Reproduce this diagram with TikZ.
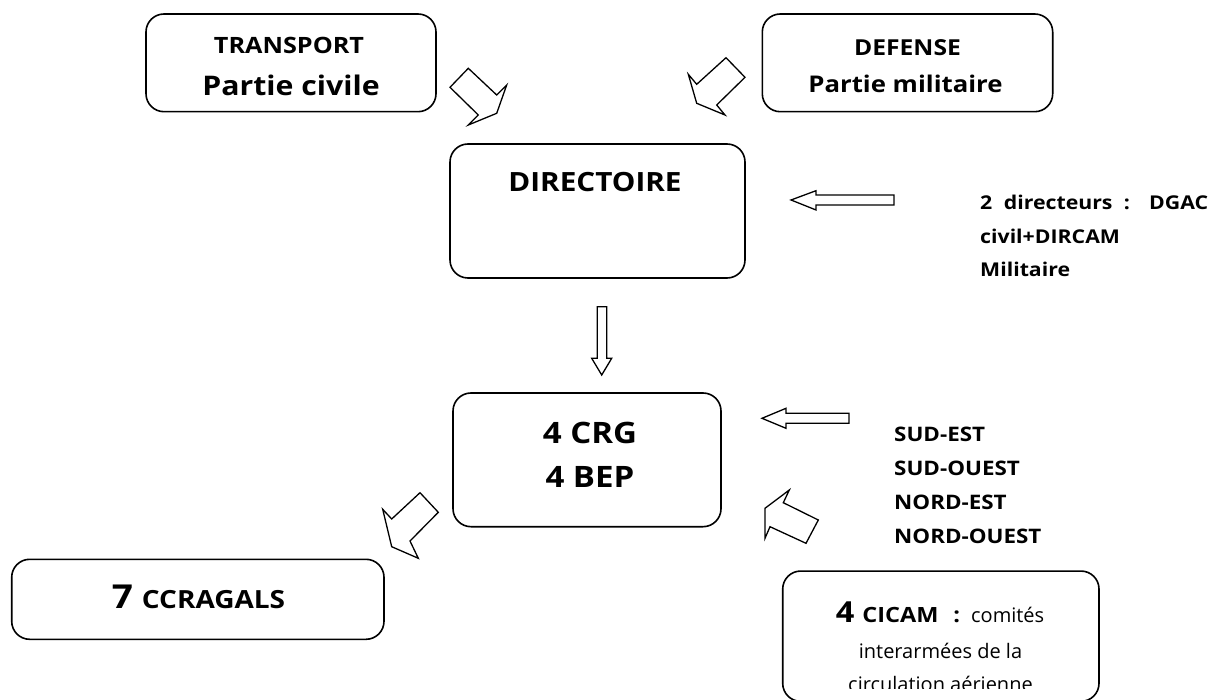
\documentclass[tikz,border=0pt]{standalone}
\usepackage{fontspec}
\setmainfont{Open Sans}[BoldFeatures={FakeStretch=1.12}]
\begin{document}
\begin{tikzpicture}[x=1pt,y=-1pt,
  box/.style={draw, line width=1.6pt, rounded corners=18pt, inner sep=0pt},
  barrow/.style={draw, line width=1.3pt, fill=white, line join=miter},
  txt/.style={anchor=base, inner sep=0pt, font=\bfseries},
  ltxt/.style={anchor=base west, inner sep=0pt, font=\bfseries\fontsize{20}{24}\selectfont},
  rtxt/.style={anchor=base west, inner sep=0pt, font=\bfseries\fontsize{19}{23}\selectfont},
]
\useasboundingbox (0,0) rectangle (1215,700);
\fill[white] (0,0) rectangle (1215,700);

% boxes
\node[box, minimum width=290pt, minimum height=97.7pt] (transport) at (291,62.85) {};
\node[box, minimum width=290.4pt, minimum height=97.7pt] (defense) at (907.5,62.85) {};
\node[box, minimum width=295pt, minimum height=134pt] (directoire) at (597.5,211) {};
\node[box, minimum width=268pt, minimum height=133.7pt] (crg) at (587,459.85) {};
\node[box, minimum width=372.3pt, minimum height=80pt] (ccragals) at (197.85,599.3) {};
\node[box, minimum width=316.3pt, minimum height=130.3pt] (cicam) at (940.85,636.2) {};

% texts
\node[txt, font=\bfseries\fontsize{22.5}{26}\selectfont] (t1) at (289,54) {TRANSPORT};
\node[txt, font=\bfseries\fontsize{27}{32}\selectfont] (t2) at (291,95.7) {Partie civile};
\node[txt, font=\bfseries\fontsize{22}{26}\selectfont] (d1) at (907.5,56) {DEFENSE};
\node[txt, font=\bfseries\fontsize{23}{27}\selectfont] (d2) at (905.5,93) {Partie militaire};
\node[txt, font=\bfseries\fontsize{26.5}{30}\selectfont] (dir) at (595,192) {DIRECTOIRE};

\node[rtxt] (r1) at (980,210) {\makebox[228pt][s]{2 directeurs : DGAC}};
\node[rtxt] (r2) at (980,244) {civil+DIRCAM};
\node[rtxt] (r3) at (980,277) {Militaire};

\node[txt, font=\bfseries\fontsize{29.5}{34}\selectfont] (c1) at (590,443) {4 CRG};
\node[txt, font=\bfseries\fontsize{29.5}{34}\selectfont] (c2) at (590,487) {4 BEP};

\node[ltxt] (s1) at (894,441) {SUD-EST};
\node[ltxt] (s2) at (894,475) {SUD-OUEST};
\node[ltxt] (s3) at (894,509) {NORD-EST};
\node[ltxt] (s4) at (894,543) {NORD-OUEST};

\node[txt] (k1) at (940,622.7) {{\fontsize{29}{32}\selectfont 4}\hspace{8pt}{\fontsize{21}{25}\selectfont CICAM}\hspace{15pt}{\fontsize{21}{25}\selectfont :}\hspace{11pt}{\mdseries\fontsize{20}{24}\selectfont comités}};
\node[txt, font=\mdseries\fontsize{20}{24}\selectfont] (k2) at (940.5,658) {interarmées de la};
\begin{scope}
\clip (780,560) rectangle (1100,688);
\node[txt, font=\mdseries\fontsize{20}{24}\selectfont] (k3) at (940.5,691) {circulation aérienne};
\end{scope}

\node[txt] (g1) at (198.5,608) {{\fontsize{33}{36}\selectfont 7}\hspace{9pt}{\fontsize{25}{28}\selectfont CCRAGALS}};

% block arrows
\draw[barrow] (468.3,68.3) -- (496.7,95) -- (506.7,85) -- (496.7,113.3) -- (468.3,125) -- (478.3,115) -- (450,87.3) -- cycle;
\draw[barrow] (726,57.7) -- (745,77.3) -- (716.7,105) -- (725,115) -- (696.7,103.3) -- (688.3,74.3) -- (696.7,84.3) -- cycle;
\draw[barrow] (894,195) -- (894,205) -- (816,205) -- (816,210) -- (791,200) -- (816,190.7) -- (816,195) -- cycle;
\draw[barrow] (597.3,306.7) -- (606.7,306.7) -- (606.7,358.3) -- (611.7,358.3) -- (601.7,375) -- (591.7,358.3) -- (597.3,358.3) -- cycle;
\draw[barrow] (849,413.3) -- (849,423.3) -- (786,423.3) -- (786,428.3) -- (762,418.3) -- (786,408.3) -- (786,413.3) -- cycle;
\draw[barrow] (420,492.7) -- (438.3,512.3) -- (410,541) -- (418.3,558.3) -- (391.7,546.7) -- (382.7,509.3) -- (391.7,519) -- cycle;
\draw[barrow] (789.3,490) -- (783.3,502.7) -- (818.3,520) -- (806,543.3) -- (770,526.7) -- (765,538.3) -- (765,508.3) -- cycle;
\end{tikzpicture}
\end{document}
